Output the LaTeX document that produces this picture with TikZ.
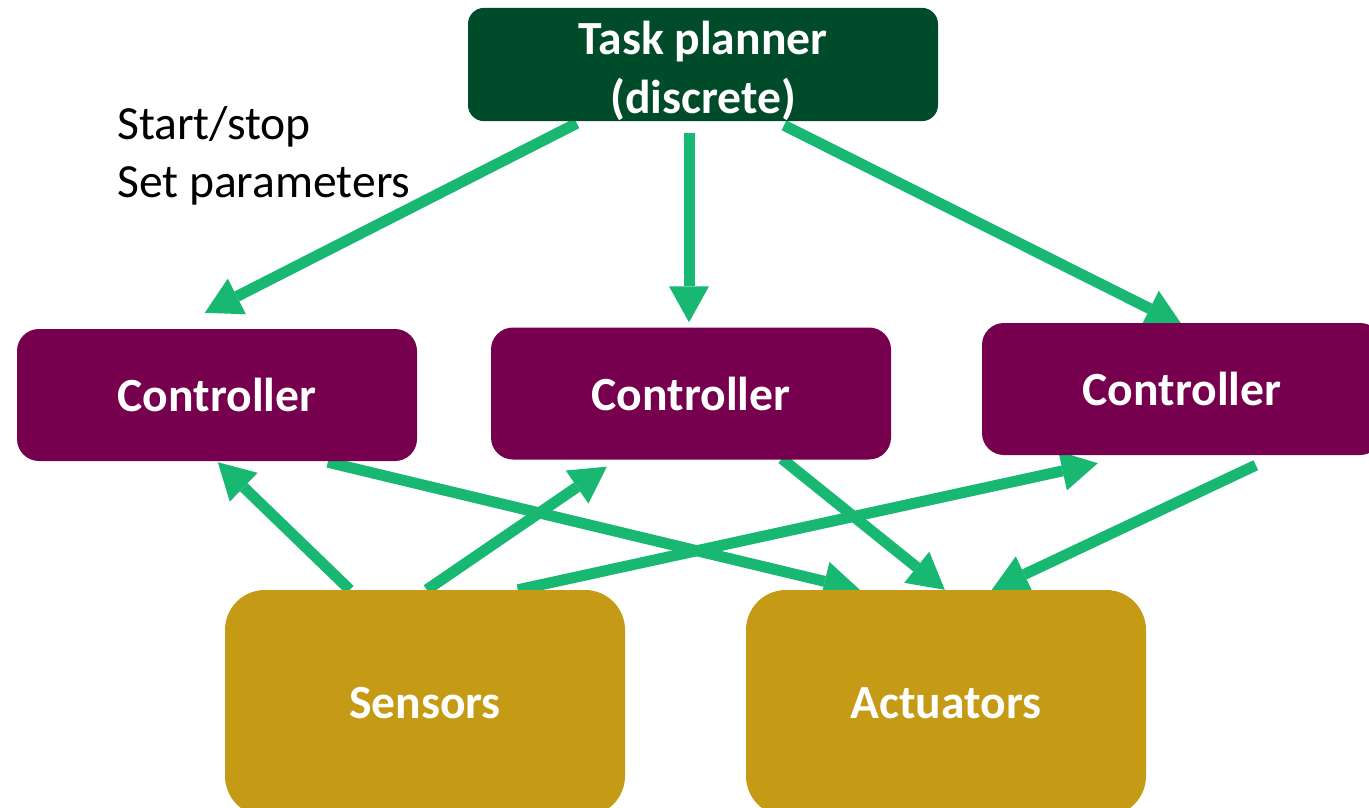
\documentclass[tikz,border=0pt]{standalone}
\usepackage{fontspec}
\setmainfont{Carlito}
\usetikzlibrary{arrows.meta,calc}
\pgfdeclarelayer{background}
\pgfsetlayers{background,main}
\definecolor{plangreen}{HTML}{004B2A}
\definecolor{ctlpurple}{HTML}{76004D}
\definecolor{iogold}{HTML}{C59A14}
\definecolor{arrgreen}{HTML}{18B873}
\tikzset{
  box/.style={rectangle, rounded corners=22pt, text=white, inner sep=0pt,
    font=\fontsize{47.6}{59}\selectfont\bfseries, align=center},
  planbox/.style={box, fill=plangreen, minimum width=470pt, minimum height=113pt, rounded corners=16pt},
  ctlbox/.style={box, fill=ctlpurple, minimum width=400pt, minimum height=132pt},
  iobox/.style={box, fill=iogold, minimum width=400pt, minimum height=226pt, rounded corners=40pt},
  flow/.style={draw=arrgreen, line width=11pt, -{Triangle[length=36pt,width=40pt,line width=0pt]}, arrgreen}
}
\begin{document}
\begin{tikzpicture}[x=1pt,y=-1pt]
\useasboundingbox (0,0) rectangle (1369,808);
\node[planbox] (tp) at (703,64.5) {\rule{0pt}{47pt}Task planner\\(discrete)};
\node[ctlbox] (c1) at (217,395) {Controller};
\node[ctlbox] (c2) at (691,393.5) {Controller};
\node[ctlbox] (c3) at (1182,389) {Controller};
\node[iobox] (sen) at (425,703) {Sensors};
\node[iobox] (act) at (946,703) {Actuators};
\node[anchor=north west, inner sep=0pt, align=left, font=\fontsize{47.6}{58}\selectfont] (lbl) at (117,106) {Start/stop\\Set parameters};
\begin{pgfonlayer}{background}
\draw[flow] ($(tp.south west)+(109,2)$) -- ($(c1.north west)+(188,-16)$);
\draw[flow] ($(tp.south)+(-14,12)$) -- ($(c2.north)+(-2,-5)$);
\draw[flow] ($(tp.south)+(81,4)$) -- ($(c3.north)+(0,2)$);
\draw[flow] ($(sen.north west)+(125,0)$) -- ($(c1.south west)+(201,1)$);
\draw[flow] ($(sen.north west)+(202,0)$) -- ($(c2.south west)+(116,7)$);
\draw[flow] ($(sen.north west)+(293,0)$) -- ($(c3.south west)+(116,8)$);
\draw[flow] ($(c1.south west)+(311,1)$) -- ($(act.north west)+(114,0)$);
\draw[flow] ($(c2.south west)+(291,-1)$) -- ($(act.north west)+(199,0)$);
\draw[flow] ($(c3.south west)+(274,10)$) -- ($(act.north west)+(246,0)$);
\end{pgfonlayer}
\end{tikzpicture}
\end{document}
